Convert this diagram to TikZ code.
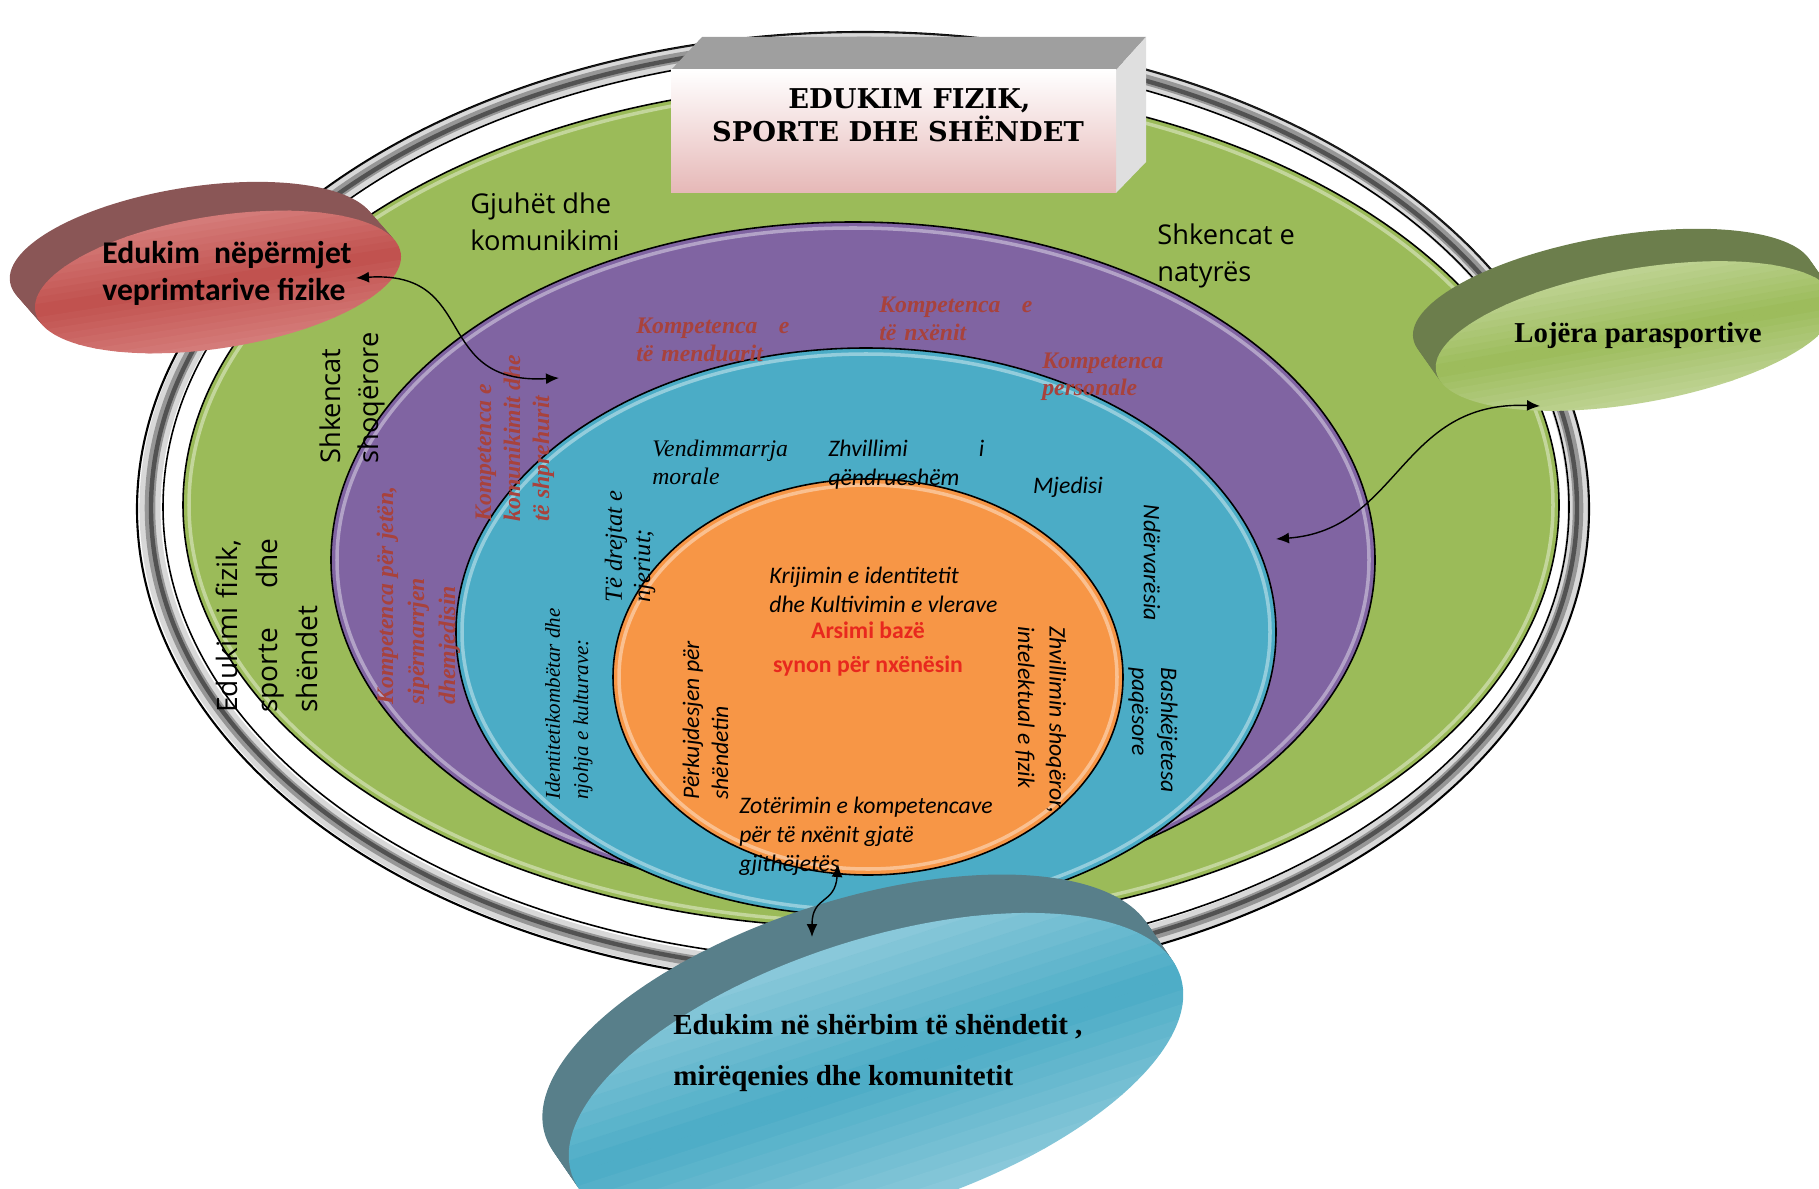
\documentclass[tikz,border=0pt]{standalone}
\usepackage{fontspec}
\setmainfont{Liberation Serif}
\newfontfamily\carlito{Carlito}
\newfontfamily\opensans{Open Sans}
\newfontfamily\slabfont{DejaVu Serif}
\usetikzlibrary{positioning, arrows.meta}
\definecolor{ringgreen}{HTML}{9BBB59}
\definecolor{ringpurple}{HTML}{8064A2}
\definecolor{ringblue}{HTML}{4BACC6}
\definecolor{ringorange}{HTML}{F79646}
\definecolor{komred}{HTML}{A8423C}
\definecolor{basered}{HTML}{E8281E}
\definecolor{redside}{HTML}{8A5656}
\definecolor{redlight}{HTML}{D88280}
\definecolor{redmid}{HTML}{C0504D}
\definecolor{greenside}{HTML}{6C7E4C}
\definecolor{greenlight}{HTML}{C3D69B}
\definecolor{blueside}{HTML}{587F8A}
\definecolor{bluelight}{HTML}{93CDDD}
\definecolor{titlepink}{HTML}{E6B8B7}

\begin{document}
\begin{tikzpicture}[x=0.02cm, y=-0.02cm,
    ring/.style = {draw=black, line width=0.9pt},
    gloss/.style = {draw=white, line width=2pt, opacity=0.4},
    ringlbl/.style = {font=\opensans\fontsize{15.5}{21.5}\selectfont, align=left, inner sep=0pt, anchor=base west},
    komp/.style = {text=komred, font=\fontsize{13.5}{15.5}\selectfont\bfseries\itshape, align=left, inner sep=0pt, anchor=base west},
    valtxt/.style = {font=\fontsize{13.5}{15.5}\selectfont\itshape, align=left, inner sep=0pt, anchor=base west},
    valsans/.style = {font=\carlito\fontsize{13.5}{16.5}\selectfont\itshape, align=left, inner sep=0pt, anchor=base west},
    basetxt/.style = {font=\carlito\fontsize{13.5}{16}\selectfont\bfseries, text=basered, inner sep=0pt},
    disctxt/.style = {font=\fontsize{16.5}{29}\selectfont\bfseries, align=left, inner sep=0pt, anchor=base west},
    link/.style = {draw, thick, {Latex[length=2.6mm,width=2.2mm]}-{Latex[length=2.6mm,width=2.2mm]}}]
    \useasboundingbox (0,0) rectangle (1819,1189);
    % rings
    \filldraw[fill=white, draw=black, line width=1.2pt] (863,509) ellipse [x radius=726, y radius=477];
    \draw[black!60, line width=12pt, opacity=0.25] (864,508) ellipse [x radius=714, y radius=466];
    \draw[black, line width=6pt, opacity=0.3] (864,508) ellipse [x radius=714, y radius=466];
    \draw[black, line width=2.5pt, opacity=0.45] (864,508) ellipse [x radius=713, y radius=465];
    \draw[ring] (866,507) ellipse [x radius=703, y radius=454];
    \filldraw[fill=ringgreen, ring] (871,505) ellipse [x radius=688, y radius=423];
    \draw[gloss] (871,505) ellipse [x radius=682, y radius=417];
    \filldraw[fill=ringpurple, ring] (853,560) ellipse [x radius=522, y radius=338];
    \draw[gloss] (853,560) ellipse [x radius=516, y radius=332];
    \filldraw[fill=ringblue, ring] (866,632) ellipse [x radius=410, y radius=284];
    \draw[gloss] (866,632) ellipse [x radius=404, y radius=278];
    \filldraw[fill=ringorange, ring] (868,677) ellipse [x radius=255, y radius=198];
    \draw[gloss] (868,677) ellipse [x radius=249, y radius=192];

    \node[ringlbl] (gjuhet) at (470,251) {Gjuhët dhe\\komunikimi};
    \node[ringlbl] (natyres) at (1157,282) {Shkencat e\\natyrës};
    \node[ringlbl, rotate=90] (shoqerore) at (378,464) {Shkencat\\shoqërore};
    \node[ringlbl, rotate=90, font=\opensans\fontsize{16}{23}\selectfont, text width=3.48cm] (edfizik) at (237,713) {Edukimi fizik,\\sporte\hfill dhe\\shëndet};

    \node[komp, text width=3.06cm] (kmend) at (636,334) {Kompetenca\hfill e\\të menduarit};
    \node[komp, text width=3.06cm] (knxen) at (879,313) {Kompetenca\hfill e\\të nxënit};
    \node[komp] (kpers) at (1042,396) {Kompetenca\\personale};
    \node[komp, rotate=90, font=\fontsize{13.5}{16.5}\selectfont\bfseries\itshape] (kkom) at (549,522) {Kompetenca e\\komunikimit dhe\\të shprehurit};
    \node[komp, rotate=90, font=\fontsize{13.5}{17.6}\selectfont\bfseries\itshape] (kjet) at (455,705) {Kompetenca për jetën,\\sipërmarrjen\\dhemjedisin};

    \node[valtxt] (vend) at (652,484) {Vendimmarrja\\morale};
    \node[valsans, text width=3.12cm] (zhv) at (828,457) {Zhvillimi\hfill i\\qëndrueshëm};
    \node[valsans, anchor=center] (mjed) at (1068,487) {Mjedisi};
    \node[valsans, rotate=-90, anchor=center] (nderv) at (1152,563) {Ndërvarësia};
    \node[valsans, rotate=-90] (bashk) at (1132,667) {Bashkëjetesa\\paqësore};
    \node[valtxt, rotate=90, font=\fontsize{14}{16}\selectfont\itshape] (drejt) at (650,603) {Të drejtat e\\njeriut;};
    \node[valtxt, rotate=90, font=\fontsize{12}{16}\selectfont\itshape] (ident) at (588,800) {Identitetikombëtar dhe\\njohja e kulturave:};

    \node[valsans] (krij) at (769,612) {Krijimin e identitetit\\dhe Kultivimin e vlerave};
    \node[basetxt] (arsimi) at (868,630) {Arsimi bazë};
    \node[basetxt, below=3.4mm of arsimi] (synon) {synon për nxënësin};
    \node[valsans, rotate=90] (perkuj) at (728,800) {Përkujdesjen për\\shëndetin};
    \node[valsans, rotate=-90, font=\carlito\fontsize{13.5}{18}\selectfont\itshape] (zhvsh) at (1018,626) {Zhvillimin shoqëror,\\intelektual e fizik};
    \node[valsans] (zoter) at (739,871) {Zotërimin e kompetencave\\për të nxënit gjatë\\gjithëjetës};

    % discs
    \foreach \k in {12,...,1}
        \fill[redside, shift={(218-2.1*\k,282-2.4*\k)}, rotate=9] (0,0) ellipse [x radius=185, y radius=66];
    \begin{scope}[shift={(218,282)}, rotate=9]
        \clip (0,0) ellipse [x radius=185, y radius=66];
        \foreach \i [evaluate=\i as \p using {100-abs(\i-9.5)*9}] in {0,...,19}
            \fill[redmid!\p!redlight] (-190,-66+\i*6.6) rectangle (190,-66+\i*6.6+7.2);
    \end{scope}
    \node[font=\carlito\fontsize{18}{21.5}\selectfont\bfseries, align=left, inner sep=0pt, anchor=base west] (redtxt) at (102,301) {Edukim\ \ nëpërmjet\\veprimtarive fizike};

    \foreach \k in {12,...,1}
        \fill[greenside, shift={(1636-1.9*\k,336-2.7*\k)}, rotate=10] (0,0) ellipse [x radius=203, y radius=67];
    \begin{scope}[shift={(1636,336)}, rotate=10]
        \clip (0,0) ellipse [x radius=203, y radius=67];
        \foreach \i [evaluate=\i as \p using {100-abs(\i-9.5)*9}] in {0,...,19}
            \fill[ringgreen!\p!greenlight] (-210,-67+\i*6.7) rectangle (210,-67+\i*6.7+7.2);
    \end{scope}
    \node[font=\fontsize{16.4}{19}\selectfont\bfseries, inner sep=0pt] (lojera) at (1638,336) {Lojëra parasportive};

    \foreach \k in {12,...,1}
        \fill[blueside, shift={(876-2.2*\k,1075-3.2*\k)}, rotate=18] (0,0) ellipse [x radius=320, y radius=135];
    \begin{scope}[shift={(876,1075)}, rotate=18]
        \clip (0,0) ellipse [x radius=320, y radius=135];
        \foreach \i [evaluate=\i as \p using {100-abs(\i-9.5)*9}] in {0,...,19}
            \fill[ringblue!\p!bluelight] (-330,-135+\i*13.5) rectangle (330,-135+\i*13.5+14);
    \end{scope}
    \node[disctxt] (sherbim) at (673,1085) {Edukim në shërbim të shëndetit ,\\mirëqenies dhe komunitetit};

    % title box
    \fill[gray!75] (671,70) -- (702,37) -- (1146,37) -- (1116,70) -- cycle;
    \fill[gray!25] (1116,70) -- (1146,37) -- (1146,162) -- (1116,193) -- cycle;
    \shade[top color=white, bottom color=titlepink] (671,70) rectangle (1116,193);
    \node[font=\slabfont\bfseries\fontsize{15.5}{19}\selectfont, align=center, inner sep=0pt] (title) at (898,115) {\hspace*{13pt}EDUKIM FIZIK,\\SPORTE DHE SHËNDET};

    % connectors
    \coordinate (redEnd) at (356,278);
    \coordinate (purpleEnd) at (559,378);
    \coordinate (purpleEdge) at (1276,539);
    \coordinate (greenEnd) at (1540,406);
    \coordinate (coreEnd) at (838,864);
    \coordinate (discEnd) at (812,937);
    \draw[link] (redEnd) .. controls (480,270) and (430,385) .. (purpleEnd);
    \draw[link] (purpleEdge) .. controls (1400,530) and (1400,400) .. (greenEnd);
    \draw[link] (coreEnd) .. controls (835,905) and (812,895) .. (discEnd);
\end{tikzpicture}
\end{document}
